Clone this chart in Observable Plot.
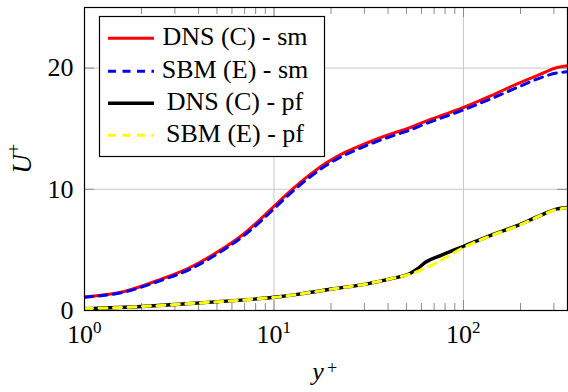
<!DOCTYPE html>
<html><head><meta charset="utf-8">
<script src="https://cdn.jsdelivr.net/npm/d3@7"></script>
<script src="https://cdn.jsdelivr.net/npm/@observablehq/plot@0.6"></script>
<style>
body{margin:0;background:#fff;font-family:"Liberation Serif"}
#wrap{position:relative;width:568px;height:392px;font-family:"Liberation Serif"}
#wrap svg{display:block}
#wrap svg text{font-family:"Liberation Serif" !important}
#legend{position:absolute;left:0;top:0;pointer-events:none}
</style>
</head><body><div id="wrap"></div>
<script>
// ---- data ----
const seriesNames = ["DNS (C) - sm", "SBM (E) - sm", "DNS (C) - pf", "SBM (E) - pf"];

const yPlusDnsSm = [1, 1.6, 2.5, 3.6, 5, 6.7, 8.5, 10, 12.7, 15.6, 19, 23.4, 28.6, 35, 43, 52.5, 64, 78.7, 100, 139, 192, 255, 312, 354];
const uDnsSm     = [1.12, 1.55, 2.55, 3.55, 4.8, 6.15, 7.55, 8.6, 10.1, 11.25, 12.2, 13.0, 13.6, 14.15, 14.65, 15.1, 15.65, 16.15, 16.75, 17.7, 18.7, 19.5, 20.05, 20.2];

const yPlusSbmSm = [1, 1.6, 2.5, 3.6, 5, 6.7, 8.5, 10, 12.7, 15.6, 19, 23.4, 28.6, 35, 43, 52.5, 64, 78.7, 100, 139, 192, 255, 312, 354];
const uSbmSm     = [1.1, 1.5, 2.45, 3.4, 4.65, 6.0, 7.35, 8.4, 9.9, 11.05, 12.0, 12.8, 13.4, 13.95, 14.45, 14.9, 15.45, 15.95, 16.55, 17.45, 18.4, 19.2, 19.6, 19.7];

const yPlusDnsPf = [1, 2, 3, 5, 7.6, 10.9, 13.8, 20.7, 31, 41, 52.5, 57, 63, 75.6, 100, 133, 192, 255, 312, 354];
const uDnsPf     = [0.15, 0.33, 0.49, 0.72, 0.92, 1.15, 1.37, 1.79, 2.2, 2.61, 3.08, 3.43, 3.98, 4.53, 5.3, 6.08, 7.0, 7.85, 8.38, 8.5];

const yPlusSbmPf = [1, 2, 3, 5, 7.6, 10.9, 13.8, 20.7, 31, 41, 52.5, 57, 63, 75.6, 100, 133, 192, 255, 312, 354];
const uSbmPf     = [0.15, 0.33, 0.49, 0.72, 0.92, 1.15, 1.37, 1.79, 2.2, 2.61, 3.0, 3.2, 3.5, 4.12, 5.2, 6.04, 6.97, 7.82, 8.35, 8.45];

const xMajorTicks = [1, 10, 100];
const xMinorTicks = [2,3,4,5,6,7,8,9,20,30,40,50,60,70,80,90,200,300];
const yMajorTicks = [0, 10, 20];
const xDomain = [1, 354];
const yDomain = [0, 25];

// ---- styles ----
const FONT = "Liberation Serif";
const styles = [
  {stroke: "#ff0000", strokeWidth: 3, dash: null},
  {stroke: "#0000ff", strokeWidth: 3, dash: "8,6.5"},
  {stroke: "#000000", strokeWidth: 3.4, dash: null},
  {stroke: "#ffff00", strokeWidth: 3, dash: "8,6.5"}
];

const W = 568, H = 392, mL = 84, mR = 1, mT = 7, mB = 82;
const pw = W - mL - mR, ph = H - mT - mB;

const series = [
  [yPlusDnsSm, uDnsSm],
  [yPlusSbmSm, uSbmSm],
  [yPlusDnsPf, uDnsPf],
  [yPlusSbmPf, uSbmPf]
].map(([xs, ys]) => xs.map((x, i) => ({x, y: ys[i]})));

const gridColor = "#c8c8c8";
const tickColor = "#8c8c8c";

const chart = Plot.plot({
  width: W, height: H,
  marginLeft: mL, marginRight: mR, marginTop: mT, marginBottom: mB,
  style: {fontFamily: FONT, fontSize: "26px", background: "#fff", overflow: "visible"},
  x: {type: "log", domain: xDomain, axis: null},
  y: {domain: yDomain, axis: null},
  marks: [
    Plot.ruleX(xMajorTicks, {x: d => d, stroke: gridColor, strokeWidth: 1}),
    Plot.ruleY(yMajorTicks, {y: d => d, stroke: gridColor, strokeWidth: 1}),
    Plot.tickX(xMajorTicks, {x: d => d, stroke: tickColor, insetTop: ph - 10}),
    Plot.tickX(xMajorTicks, {x: d => d, stroke: tickColor, insetBottom: ph - 10}),
    Plot.tickX(xMinorTicks, {x: d => d, stroke: tickColor, insetTop: ph - 7}),
    Plot.tickX(xMinorTicks, {x: d => d, stroke: tickColor, insetBottom: ph - 7}),
    Plot.tickY(yMajorTicks, {y: d => d, stroke: tickColor, insetRight: pw - 10}),
    Plot.tickY(yMajorTicks, {y: d => d, stroke: tickColor, insetLeft: pw - 10}),
    ...series.map((data, i) => Plot.line(data, {
      x: "x", y: "y", stroke: styles[i].stroke, strokeWidth: styles[i].strokeWidth,
      strokeDasharray: styles[i].dash ?? undefined, curve: "monotone-x", clip: true
    })),
    Plot.frame({stroke: "#000", strokeWidth: 1.2}),
    Plot.text(xMajorTicks, {x: d => d, text: () => "10", frameAnchor: "bottom", fontFamily: FONT,
      textAnchor: "end", lineAnchor: "bottom", dx: 8.5, dy: 32, fontSize: 26, fill: "#000"}),
    Plot.text(xMajorTicks, {x: d => d, text: d => String(Math.round(Math.log10(d))), frameAnchor: "bottom", fontFamily: FONT,
      textAnchor: "start", lineAnchor: "bottom", dx: 8.5, dy: 22, fontSize: 17, fill: "#000"}),
    Plot.text(yMajorTicks, {y: d => d, text: d => String(d), frameAnchor: "left", fontFamily: FONT,
      textAnchor: "end", lineAnchor: "middle", dx: -11, fontSize: 26, fill: "#000"}),
    Plot.text(["y"], {text: d => d, frameAnchor: "bottom", textAnchor: "middle", lineAnchor: "bottom", fontFamily: FONT,
      dx: -8, dy: 69, fontStyle: "italic", fontSize: 26, fill: "#000"}),
    Plot.text(["+"], {text: d => d, frameAnchor: "bottom", textAnchor: "middle", lineAnchor: "middle", fontFamily: FONT,
      dx: 6.2, dy: 57.5, fontSize: 18, fill: "#000"}),
    Plot.text(["U"], {text: d => d, frameAnchor: "left", rotate: -90, textAnchor: "middle", lineAnchor: "bottom", fontFamily: FONT,
      dx: -54, dy: 5, fontStyle: "italic", fontSize: 27, fill: "#000"}),
    Plot.text(["+"], {text: d => d, frameAnchor: "left", rotate: -90, textAnchor: "middle", lineAnchor: "middle", fontFamily: FONT,
      dx: -70, dy: -10, fontSize: 18, fill: "#000"})
  ]
});

const wrap = document.getElementById("wrap");
wrap.appendChild(chart);

// ---- legend overlay ----
const lg = d3.select(wrap).append("svg").attr("id", "legend")
  .attr("width", W).attr("height", H);
lg.append("rect").attr("x", 99.5).attr("y", 16.5).attr("width", 225).attr("height", 140)
  .attr("fill", "#fff").attr("stroke", "#000").attr("stroke-width", 1.2);
const rowBase = [45, 78, 110, 142];
seriesNames.forEach((name, i) => {
  const s = styles[i];
  lg.append("line").attr("x1", 108).attr("x2", 154)
    .attr("y1", rowBase[i] - 6.7).attr("y2", rowBase[i] - 6.7)
    .attr("stroke", s.stroke).attr("stroke-width", s.strokeWidth)
    .attr("stroke-dasharray", s.dash);
  lg.append("text").attr("x", 235).attr("y", rowBase[i]).attr("text-anchor", "middle")
    .attr("font-family", FONT).attr("font-size", 26).attr("fill", "#000").text(name);
});
</script>
</body></html>
